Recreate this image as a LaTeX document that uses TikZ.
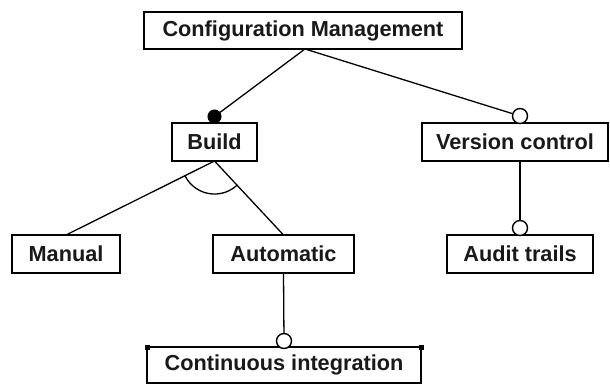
\documentclass[tikz,border=0pt]{standalone}
\usepackage{fontspec}
\setmainfont{Liberation Sans}
\usetikzlibrary{calc}
\begin{document}
\begin{tikzpicture}[x=1pt,y=-1pt,
  box/.style={draw=black,line width=1.4pt,rectangle,inner sep=0pt,outer sep=0pt,
    font=\fontsize{21.7}{24}\selectfont\bfseries,text=black!90},
  conn/.style={line width=1.3pt,black},
  opendot/.style={circle,draw=black,fill=white,line width=1.4pt,minimum size=15pt,inner sep=0pt},
  filldot/.style={circle,draw=black,fill=black,line width=1pt,minimum size=13pt,inner sep=0pt},
  handle/.style={rectangle,fill=black,minimum size=5pt,inner sep=0pt}]
\useasboundingbox (0,0) rectangle (610,385);
\fill[white] (0,0) rectangle (610,385);
\node[box,minimum width=318pt,minimum height=37pt] (cm) at (303,30.5) {Configuration Management};
\node[box,minimum width=85pt,minimum height=38pt] (build) at (214.5,142) {Build};
\node[box,minimum width=186pt,minimum height=38pt] (vc) at (515,142) {Version control};
\node[box,minimum width=108pt,minimum height=38pt] (manual) at (66,254) {Manual};
\node[box,minimum width=141pt,minimum height=38pt] (auto) at (283.5,254) {Automatic};
\node[box,minimum width=146pt,minimum height=38pt] (audit) at (520,254) {Audit trails};
\node[box,minimum width=274pt,minimum height=36pt] (ci) at (284,365) {Continuous integration};
% end markers
\node[filldot] (dbuild) at ([yshift=6.5pt]build.north) {};
\node[opendot] (dvc) at ([xshift=5pt,yshift=7pt]vc.north) {};
\node[opendot] (daudit) at ([yshift=7pt]audit.north) {};
\node[opendot] (dci) at ([yshift=6pt]ci.north) {};
\coordinate (cmb) at ([xshift=2pt]cm.south);
\coordinate (vcb) at (vc.south -| audit.north);
% connectors
\draw[conn] (cmb) -- (dbuild);
\draw[conn] (cmb) -- (dvc);
\draw[conn] (build.south) -- (manual.north);
\draw[conn] (build.south) -- (auto.north);
\draw[conn] ($(build.south)!33pt!(manual.north)$) arc[start angle=206.4,end angle=313.4,radius=33pt];
\draw[conn] (vcb) -- (daudit);
\draw[conn] (auto.south) -- (dci);
% selection handles
\node[handle] (h1) at (ci.north west) {};
\node[handle] (h2) at (ci.north east) {};
\end{tikzpicture}
\end{document}
